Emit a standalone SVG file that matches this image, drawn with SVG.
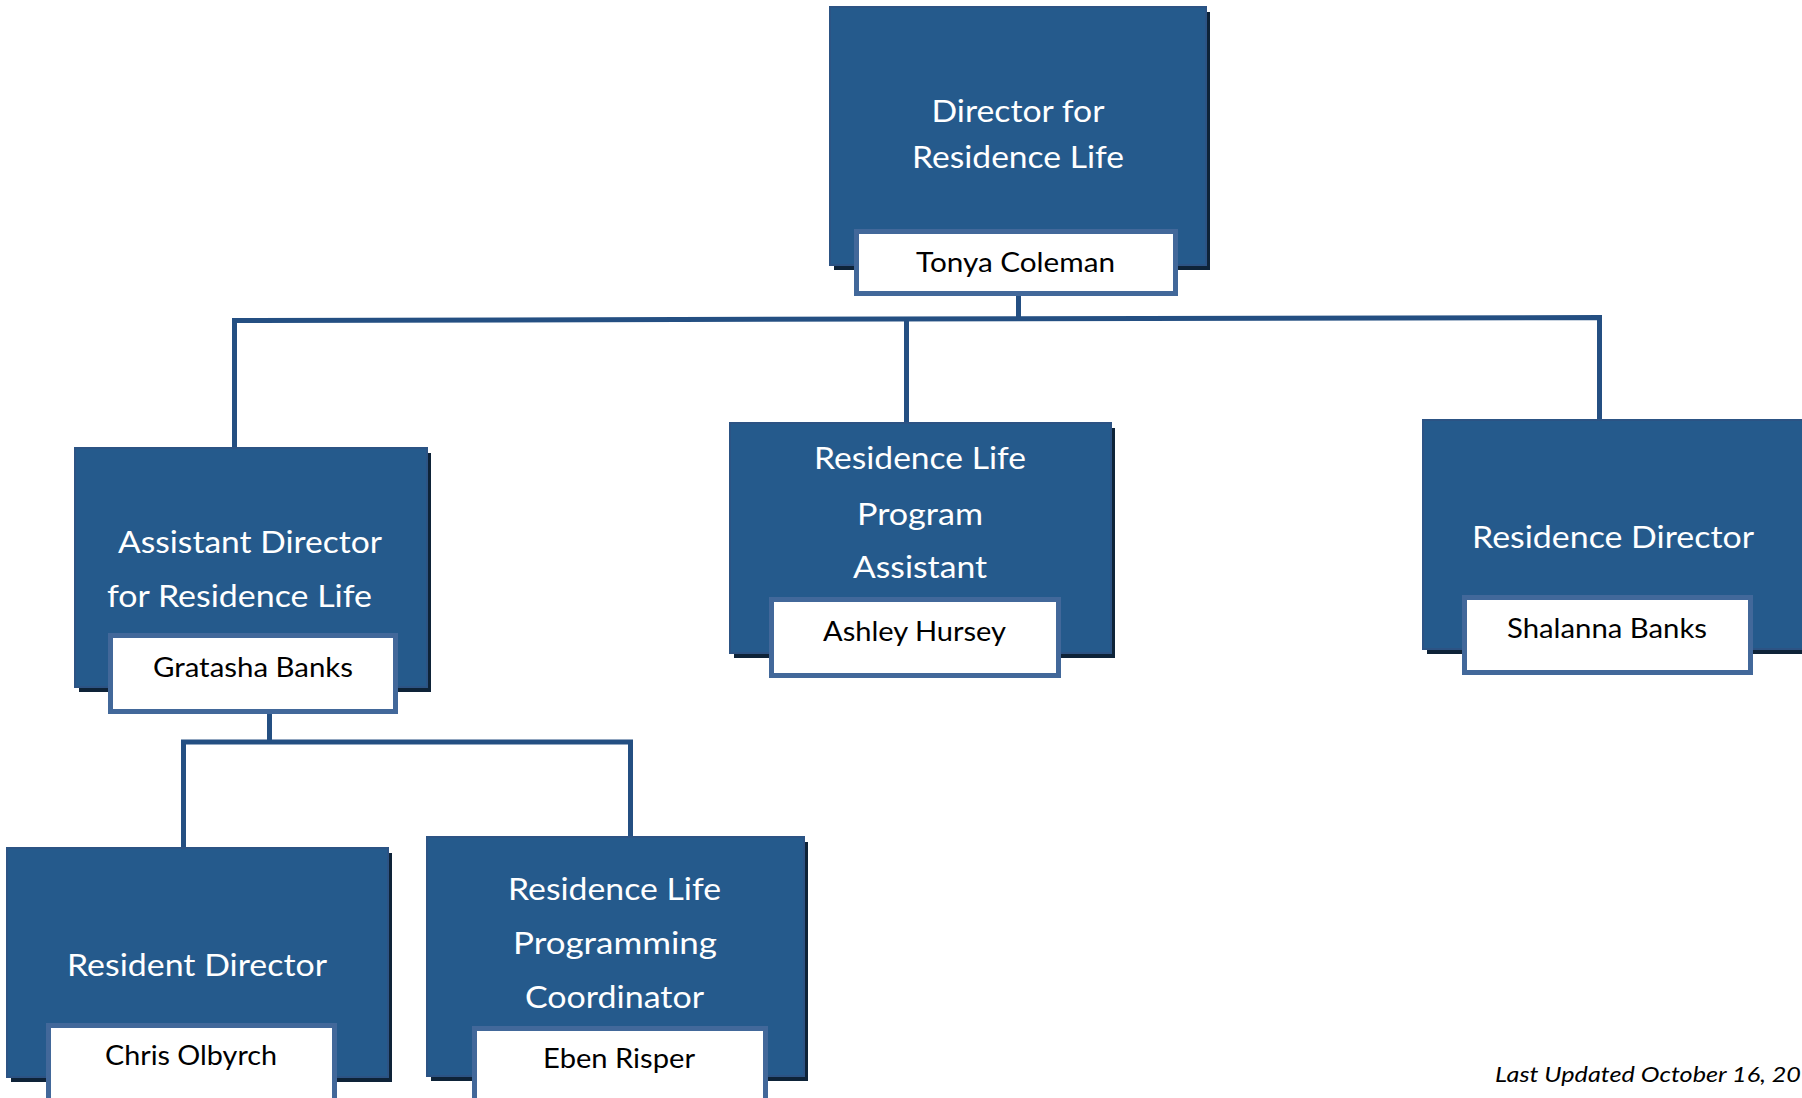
<svg xmlns="http://www.w3.org/2000/svg" width="1802" height="1098" viewBox="0 0 1802 1098">
<style>
.shadow{fill:#0e2338}
.box{fill:#255a8c;stroke:#2c5384;stroke-width:2}
.name{fill:#ffffff;stroke:#42689a;stroke-width:5}
.title{font-family:Lato,"Open Sans",sans-serif;font-size:31px;fill:#ffffff;text-anchor:middle}
.person{font-family:Lato,"Open Sans",sans-serif;font-size:26px;fill:#000000;text-anchor:middle}
.note{font-family:Lato,"Open Sans",sans-serif;font-size:22px;font-style:italic;fill:#000000}
.conn{fill:none;stroke:#244f82;stroke-width:5}
</style>
<rect width="1802" height="1098" fill="#ffffff"/>
<g id="connectors">
<line class="conn" x1="1018.5" y1="294" x2="1018.5" y2="320"/>
<polyline class="conn" points="234.5,448 234.5,320.5 1599.5,317.5 1599.5,420"/>
<line class="conn" x1="906.5" y1="319" x2="906.5" y2="423"/>
<line class="conn" x1="269.5" y1="712" x2="269.5" y2="742"/>
<polyline class="conn" points="183.5,848 183.5,742 630.5,742 630.5,837"/>
</g>
<g id="director">
<rect class="shadow" x="834" y="12" width="376" height="258"/>
<rect class="box" x="830" y="7" width="376" height="258"/>
<text class="title" x="1018" y="122" textLength="173" lengthAdjust="spacingAndGlyphs">Director for</text>
<text class="title" x="1018" y="168" textLength="212" lengthAdjust="spacingAndGlyphs">Residence Life</text>
<rect class="name" x="856.5" y="231.5" width="319" height="62"/>
<text class="person" x="1015.5" y="272" textLength="199" lengthAdjust="spacingAndGlyphs">Tonya Coleman</text>
</g>
<g id="assistant-director">
<rect class="shadow" x="79" y="453" width="352" height="239"/>
<rect class="box" x="75" y="448" width="352" height="239"/>
<text class="title" x="250" y="553" textLength="264" lengthAdjust="spacingAndGlyphs">Assistant Director</text>
<text class="title" x="239.5" y="607" textLength="265" lengthAdjust="spacingAndGlyphs">for Residence Life</text>
<rect class="name" x="110.5" y="635.5" width="285" height="76"/>
<text class="person" x="253" y="677" textLength="200" lengthAdjust="spacingAndGlyphs">Gratasha Banks</text>
</g>
<g id="program-assistant">
<rect class="shadow" x="734" y="428" width="381" height="230"/>
<rect class="box" x="730" y="423" width="381" height="230"/>
<text class="title" x="920" y="469" textLength="212" lengthAdjust="spacingAndGlyphs">Residence Life</text>
<text class="title" x="920" y="525" textLength="126" lengthAdjust="spacingAndGlyphs">Program</text>
<text class="title" x="920" y="578" textLength="134" lengthAdjust="spacingAndGlyphs">Assistant</text>
<rect class="name" x="771.5" y="599.5" width="287" height="76"/>
<text class="person" x="914.5" y="641" textLength="183" lengthAdjust="spacingAndGlyphs">Ashley Hursey</text>
</g>
<g id="residence-director">
<rect class="shadow" x="1427" y="425" width="400" height="229"/>
<rect class="box" x="1423" y="420" width="400" height="229"/>
<text class="title" x="1613" y="548" textLength="282" lengthAdjust="spacingAndGlyphs">Residence Director</text>
<rect class="name" x="1464.5" y="597.5" width="286" height="75"/>
<text class="person" x="1607" y="638" textLength="200" lengthAdjust="spacingAndGlyphs">Shalanna Banks</text>
</g>
<g id="resident-director">
<rect class="shadow" x="11" y="853" width="381" height="229"/>
<rect class="box" x="7" y="848" width="381" height="229"/>
<text class="title" x="197" y="976" textLength="260" lengthAdjust="spacingAndGlyphs">Resident Director</text>
<rect class="name" x="48.5" y="1025.5" width="286" height="90"/>
<text class="person" x="191" y="1065" textLength="172" lengthAdjust="spacingAndGlyphs">Chris Olbyrch</text>
</g>
<g id="programming-coordinator">
<rect class="shadow" x="431" y="842" width="377" height="239"/>
<rect class="box" x="427" y="837" width="377" height="239"/>
<text class="title" x="614.5" y="900" textLength="213" lengthAdjust="spacingAndGlyphs">Residence Life</text>
<text class="title" x="615" y="954" textLength="204" lengthAdjust="spacingAndGlyphs">Programming</text>
<text class="title" x="614.5" y="1008" textLength="179" lengthAdjust="spacingAndGlyphs">Coordinator</text>
<rect class="name" x="474.5" y="1028.5" width="291" height="90"/>
<text class="person" x="619" y="1068" textLength="152" lengthAdjust="spacingAndGlyphs">Eben Risper</text>
</g>
<text class="note" x="1495" y="1082" textLength="306" lengthAdjust="spacingAndGlyphs">Last Updated October 16, 20</text>
</svg>
